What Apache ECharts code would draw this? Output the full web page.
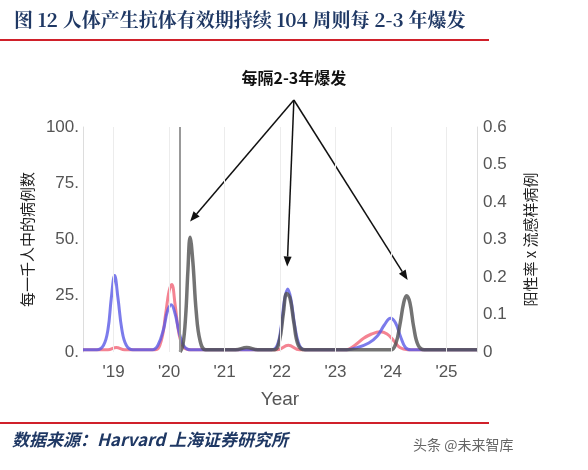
<!DOCTYPE html>
<html><head><meta charset="utf-8">
<script src="https://cdn.jsdelivr.net/npm/echarts@6/dist/echarts.min.js"></script>
<style>html,body{margin:0;padding:0;background:#fff}#c{width:588px;height:470px}</style>
</head><body><div id="c"></div>
<script>
const titleText = '图 12 人体产生抗体有效期持续 104 周则每 2-3 年爆发';
const sourceText = '数据来源：Harvard 上海证券研究所';
const xTicks = [2019, 2020, 2021, 2022, 2023, 2024, 2025];
const xTickLabels = ["'19", "'20", "'21", "'22", "'23", "'24", "'25"];
const leftTicks = ['0.', '25.', '50.', '75.', '100.'];
const rightTicks = ['0', '0.1', '0.2', '0.3', '0.4', '0.5', '0.6'];
const blue = [[2018.45,1],[2018.7,1],[2018.82,3],[2018.9,10],[2018.96,24],[2019.02,34],[2019.08,24],[2019.15,10],[2019.23,3],[2019.35,1],[2019.7,1],[2019.8,3],[2019.9,10],[2019.97,18],[2020.04,21],[2020.11,17],[2020.18,9],[2020.26,3],[2020.38,1],[2021.85,1],[2021.95,3],[2022.02,11],[2022.08,23],[2022.14,28],[2022.2,23],[2022.27,11],[2022.35,3],[2022.45,1],[2023.2,1],[2023.4,2],[2023.6,4],[2023.75,7],[2023.88,12],[2023.99,15],[2024.08,13],[2024.17,7],[2024.26,2],[2024.36,1],[2025.55,1]];
const red = [[2018.45,1],[2018.9,1],[2019.05,2],[2019.2,1],[2019.75,1],[2019.86,5],[2019.94,17],[2020.0,27],[2020.05,30],[2020.11,21],[2020.18,8],[2020.27,2],[2020.4,1],[2021.95,1],[2022.15,3],[2022.35,1],[2023.2,1],[2023.35,3],[2023.5,6],[2023.65,8],[2023.8,9],[2023.93,8],[2024.05,5],[2024.16,2],[2024.3,1],[2025.55,1]];
const gray = [[2020.2,0],[2020.25,3],[2020.3,16],[2020.34,36],[2020.38,51],[2020.43,40],[2020.49,18],[2020.56,5],[2020.66,1],[2021.2,1],[2021.4,2],[2021.6,1],[2021.9,1],[2021.99,5],[2022.06,17],[2022.12,26],[2022.18,24],[2022.25,13],[2022.33,3],[2022.45,1],[2024.0,1],[2024.09,4],[2024.16,12],[2024.23,22],[2024.28,25],[2024.34,22],[2024.41,11],[2024.49,3],[2024.6,1],[2025.55,1]];
const vline = 2020.2;
const annoText = '每隔2-3年爆发';
const annoApex = [2022.25, 112];
const arrowTargets = [[2020.38, 58], [2022.13, 38], [2024.3, 32]];

const chart = echarts.init(document.getElementById('c'));
function mk(name, data, color, w, z){
  return {name, type:'line', data, smooth:0.4, showSymbol:false, z,
    lineStyle:{color, width:w}, itemStyle:{color}};
}
const baseGraphic = [
  {type:'text', left:14, top:10, style:{text:titleText, fontSize:19, fontWeight:'bold', fill:'#1f3864', fontFamily:'Noto Serif CJK SC, Noto Sans CJK SC'}},
  {type:'rect', shape:{x:0, y:39, width:489, height:2}, style:{fill:'#d0202a'}},
  {type:'rect', shape:{x:0, y:422, width:489, height:2}, style:{fill:'#d0202a'}},
  {type:'text', left:12, top:431, style:{text:sourceText, fontSize:17, fontWeight:'bold', fontStyle:'italic', fill:'#1f3864', fontFamily:'Noto Sans CJK SC'}},
  {type:'text', left:413, top:438, style:{text:'头条 @未来智库', fontSize:14, fill:'#666', fontFamily:'Noto Sans CJK SC'}}
];
chart.setOption({
  backgroundColor:'#fff',
  animation:false,
  grid:{left:83, right:111, top:127, bottom:118},
  xAxis:{type:'value', min:2018.45, max:2025.55, interval:1,
    name:'Year', nameLocation:'middle', nameGap:38,
    nameTextStyle:{fontSize:19, color:'#555', fontFamily:'Liberation Sans'},
    axisLine:{show:false}, axisTick:{show:false},
    splitLine:{show:false},
    axisLabel:{fontSize:17, color:'#555', fontFamily:'Liberation Sans', margin:12,
      customValues: xTicks,
      formatter:v=>{const i=xTicks.indexOf(Math.round(v)); return Math.abs(v-Math.round(v))<1e-6 && i>=0 ? xTickLabels[i] : '';}}
  },
  yAxis:[
    {type:'value', min:0, max:100, interval:25,
     name:'每一千人中的病例数', nameLocation:'middle', nameGap:47, nameRotate:90,
     nameTextStyle:{fontSize:15, color:'#222', fontFamily:'Noto Sans CJK SC'},
     axisLine:{show:true, lineStyle:{color:'#ddd'}}, axisTick:{show:false}, splitLine:{show:false},
     axisLabel:{fontSize:17, color:'#555', fontFamily:'Liberation Sans', margin:4,
       formatter:v=>leftTicks[v/25]}},
    {type:'value', min:0, max:0.6, interval:0.1, position:'right',
     name:'阳性率 x 流感样病例', nameLocation:'middle', nameGap:46, nameRotate:90,
     nameTextStyle:{fontSize:15, color:'#222', fontFamily:'Noto Sans CJK SC'},
     axisLine:{show:true, lineStyle:{color:'#ddd'}}, axisTick:{show:false}, splitLine:{show:false},
     axisLabel:{fontSize:17, color:'#555', fontFamily:'Liberation Sans', margin:6,
       formatter:v=>rightTicks[Math.round(v*10)]}}
  ],
  series:[
    Object.assign(mk('grid', [], '#eee', 1, 1), {
      markLine:{silent:true, symbol:'none', label:{show:false},
        lineStyle:{color:'#ececec', type:'solid', width:1},
        data: xTicks.map(x=>({xAxis:x})).concat([{xAxis:vline, lineStyle:{color:'#999', width:2}}])}}),
    mk('red', red, 'rgba(240,90,110,0.75)', 3, 2),
    mk('blue', blue, 'rgba(90,90,230,0.8)', 3, 3),
    mk('gray', gray, 'rgba(80,80,80,0.8)', 3.5, 4)
  ],
  graphic: baseGraphic
});
const apex = chart.convertToPixel({xAxisIndex:0, yAxisIndex:0}, annoApex);
const extra = [{type:'text', x:apex[0], y:apex[1]-30, style:{text:annoText, fontSize:16, fontWeight:'bold', fill:'#111', align:'center', fontFamily:'Noto Sans CJK SC'}}];
arrowTargets.forEach(t=>{
  const p = chart.convertToPixel({xAxisIndex:0, yAxisIndex:0}, t);
  const dx=p[0]-apex[0], dy=p[1]-apex[1], L=Math.hypot(dx,dy), ux=dx/L, uy=dy/L, h=10, w=4;
  const bx=p[0]-ux*h, by=p[1]-uy*h;
  extra.push({type:'line', shape:{x1:apex[0], y1:apex[1], x2:bx, y2:by}, style:{stroke:'#111', lineWidth:1.5}});
  extra.push({type:'polygon', shape:{points:[[p[0],p[1]],[bx-uy*w,by+ux*w],[bx+uy*w,by-ux*w]]}, style:{fill:'#111'}});
});
chart.setOption({graphic: baseGraphic.concat(extra)});
</script></body></html>
